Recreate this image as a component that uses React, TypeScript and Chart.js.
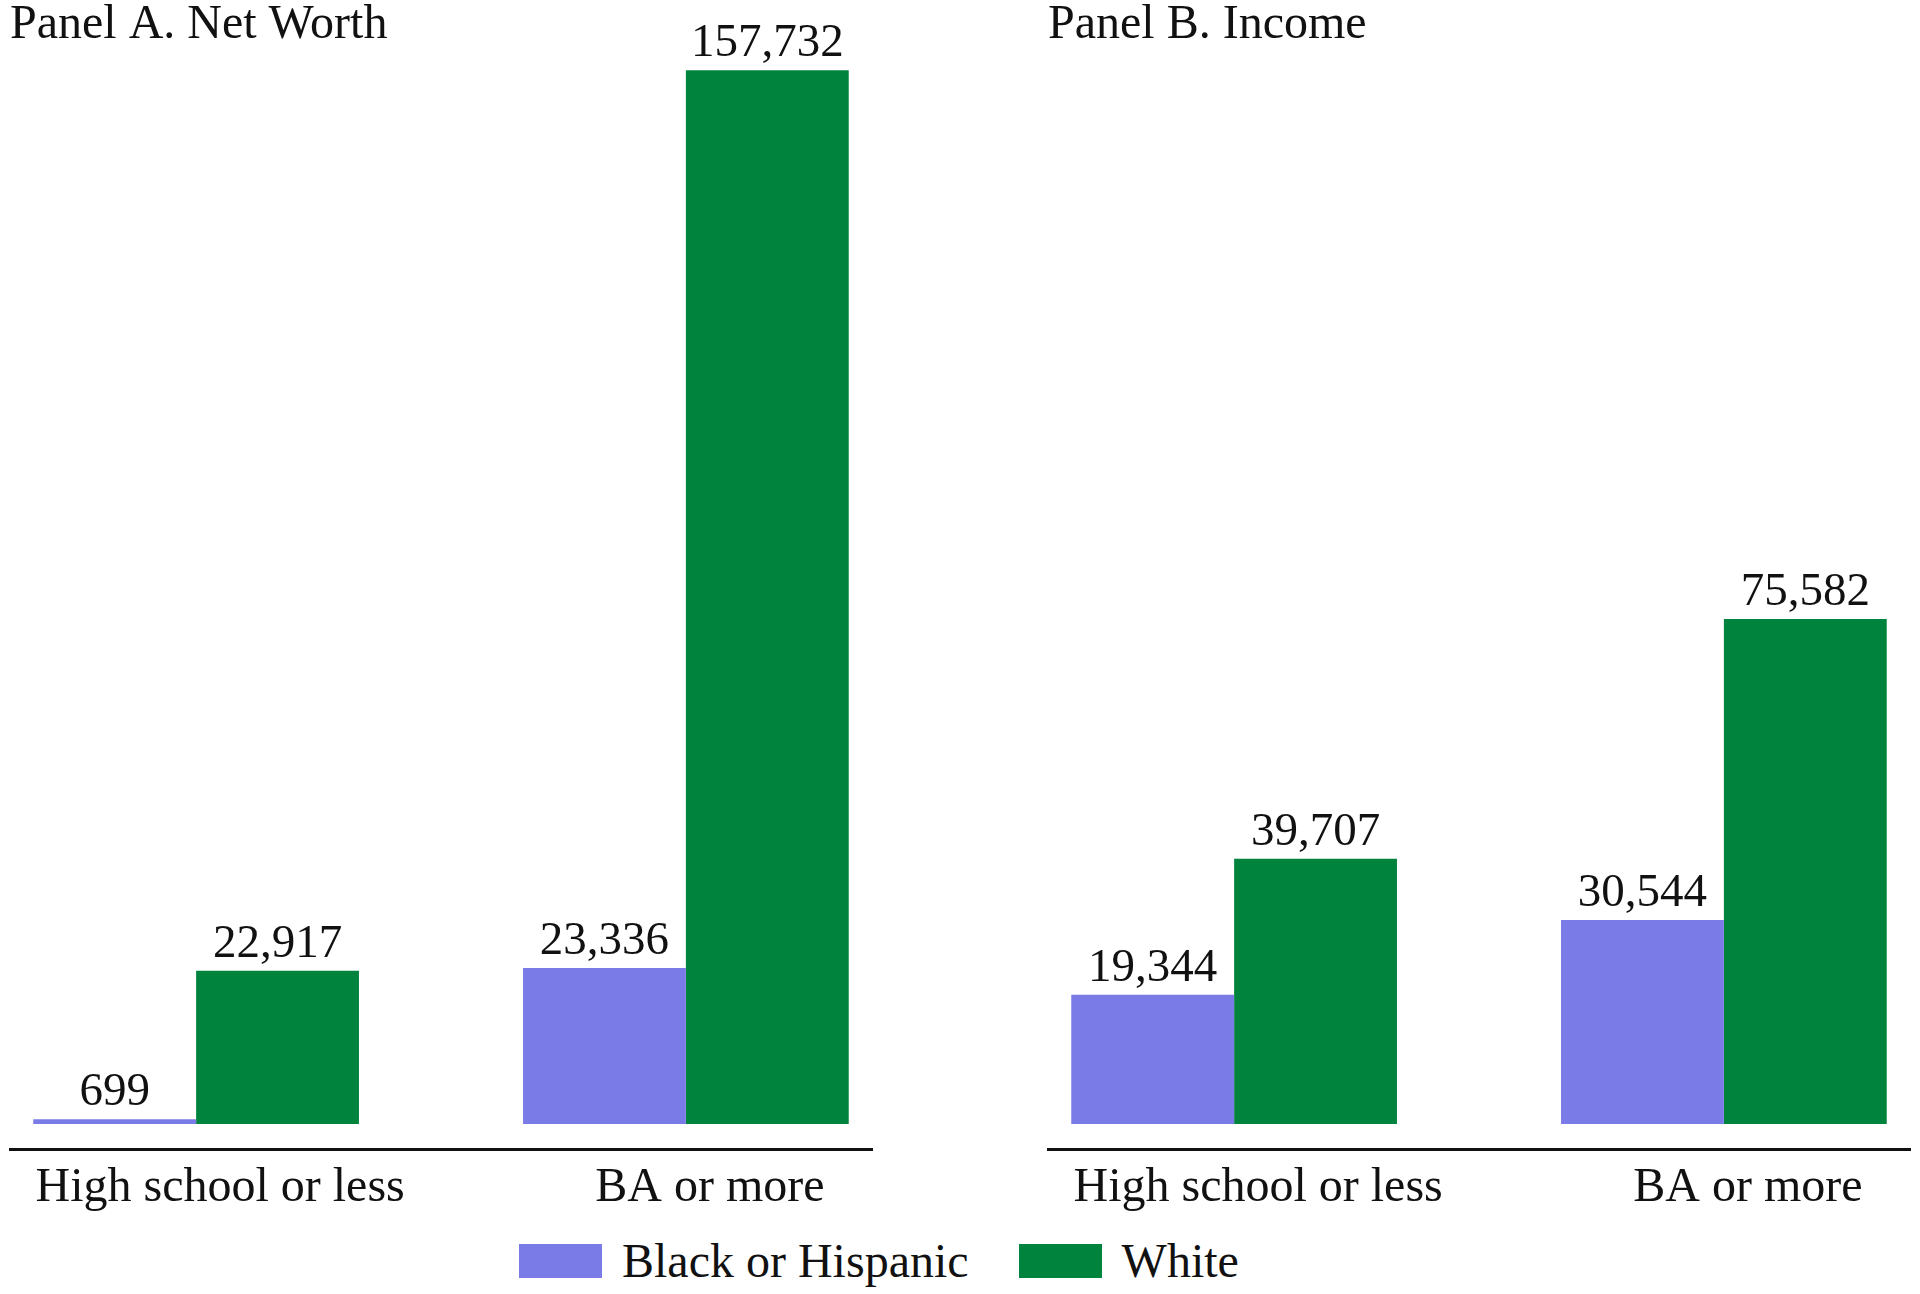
import React, { useEffect, useRef } from "react";
import { Chart, registerables } from "chart.js";

Chart.register(...registerables);

const categories = ["High school or less", "BA or more"];
const seriesLabels = ["Black or Hispanic", "White"];
const seriesColors = ["#7b7be8", "#00843d"];
const panelTitles = ["Panel A. Net Worth", "Panel B. Income"];
const netWorthBlackHispanic = [699, 23336];
const netWorthWhite = [22917, 157732];
const incomeBlackHispanic = [19344, 30544];
const incomeWhite = [39707, 75582];

const FONT = '"Liberation Serif", "Times New Roman", serif';
const TEXT = "#111111";

const valueLabels = {
  id: "valueLabels",
  afterDatasetsDraw(chart: any) {
    const ctx = chart.ctx;
    ctx.save();
    ctx.font = `47px ${FONT}`;
    ctx.fillStyle = TEXT;
    ctx.textAlign = "center";
    ctx.textBaseline = "alphabetic";
    chart.data.datasets.forEach((ds: any, di: number) => {
      chart.getDatasetMeta(di).data.forEach((bar: any, i: number) => {
        const v = ds.data[i].y;
        ctx.fillText(v.toLocaleString("en-US"), bar.x, bar.y - 14);
      });
    });
    ctx.restore();
  },
};

function Panel({ title, series, left }: { title: string; series: number[][]; left: number }) {
  const ref = useRef<HTMLCanvasElement>(null);
  useEffect(() => {
    if (!ref.current) return;
    const chart = new Chart(ref.current, {
      type: "bar",
      data: {
        datasets: series.map((vals, si) => ({
          label: seriesLabels[si],
          data: vals.map((v, i) => ({ x: i, y: v })),
          backgroundColor: seriesColors[si],
          borderWidth: 0,
          categoryPercentage: 0.665,
          barPercentage: 1,
        })),
      },
      options: {
        responsive: false,
        animation: false,
        devicePixelRatio: 1,
        layout: { padding: { left: 10, right: 10, top: 0, bottom: 0 } },
        plugins: {
          legend: { display: false },
          tooltip: { enabled: false },
          title: {
            display: true,
            text: title,
            align: "start",
            color: TEXT,
            font: { family: FONT, size: 48, weight: "normal", lineHeight: 1 },
            padding: { top: 1, bottom: 6 },
          },
        },
        scales: {
          x: {
            type: "linear",
            offset: false,
            min: -0.38,
            max: 1.38,
            grid: { display: false, drawTicks: false, offset: false },
            border: { display: true, color: TEXT, width: 3 },
            afterBuildTicks: (scale: any) => {
              scale.ticks = categories.map((_, i) => ({ value: i }));
            },
            afterFit: (scale: any) => {
              scale.height = 80;
              scale.paddingLeft = 0;
              scale.paddingRight = 0;
            },
            ticks: {
              autoSkip: false,
              maxRotation: 0,
              padding: 11,
              labelOffset: 24,
              color: TEXT,
              font: { family: FONT, size: 48 },
              callback: (v: any) => categories[v] ?? "",
            },
          },
          y: {
            display: false,
            min: -3750,
            max: 160000,
          },
        },
      },
      plugins: [valueLabels],
    } as any);
    return () => chart.destroy();
  }, []);
  return (
    <canvas
      ref={ref}
      width={882}
      height={1229}
      style={{ position: "absolute", left, top: 0, width: 882, height: 1229 }}
    />
  );
}

export default function App() {
  return (
    <div
      style={{
        position: "fixed",
        left: 0,
        top: 0,
        width: 1920,
        height: 1294,
        background: "#ffffff",
        overflow: "hidden",
      }}
    >
      <Panel title={panelTitles[0]} series={[netWorthBlackHispanic, netWorthWhite]} left={0} />
      <Panel title={panelTitles[1]} series={[incomeBlackHispanic, incomeWhite]} left={1038} />
      <div
        style={{
          position: "absolute",
          left: 519,
          top: 1244,
          display: "flex",
          alignItems: "center",
          fontFamily: FONT,
          fontSize: 48,
          lineHeight: "34px",
          color: TEXT,
          whiteSpace: "nowrap",
        }}
      >
        {seriesLabels.map((lab, i) => (
          <div key={lab} style={{ display: "flex", alignItems: "center", marginLeft: i === 0 ? 0 : 50 }}>
            <span style={{ display: "inline-block", width: 83, height: 34, background: seriesColors[i], marginRight: 20 }} />
            <span>{lab}</span>
          </div>
        ))}
      </div>
    </div>
  );
}
